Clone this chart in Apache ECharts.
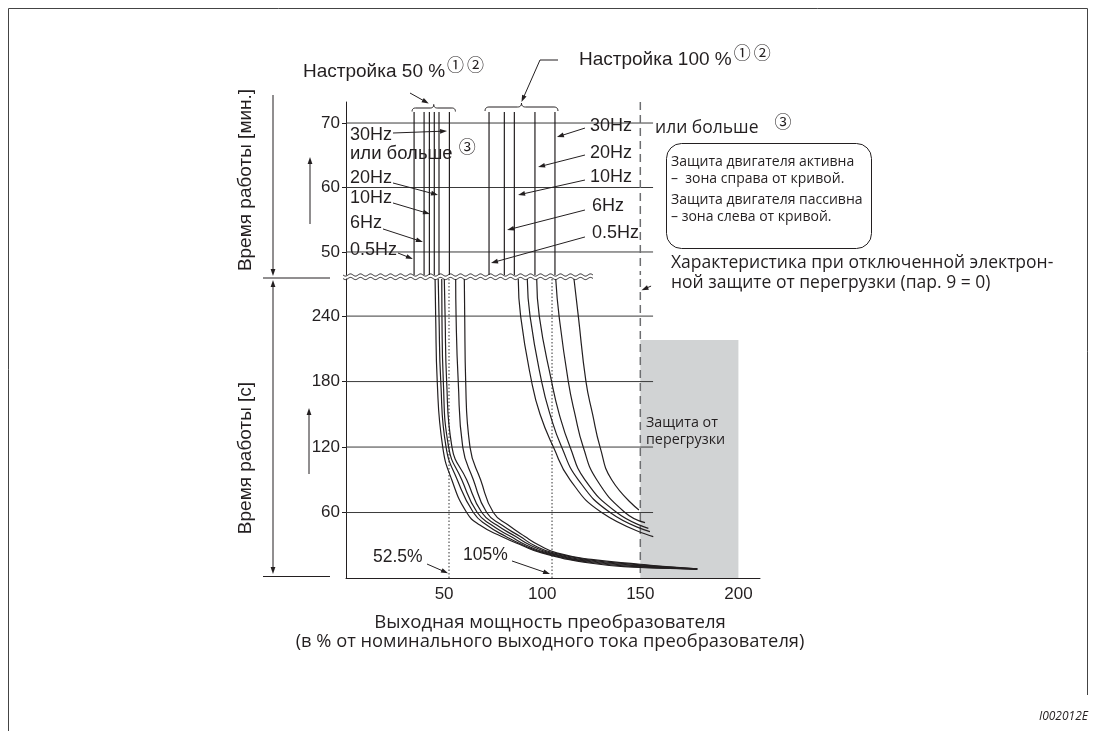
<!DOCTYPE html>
<html><head><meta charset="utf-8">
<script src="https://cdn.jsdelivr.net/npm/echarts@6/dist/echarts.min.js"></script>
<style>html,body{margin:0;padding:0;background:#fff}#c{width:1095px;height:731px}</style>
</head><body><div id="c"></div>
<script>
// ---------- data ----------
const xTickLabels = [50, 100, 150, 200];
const topTickLabels = [50, 60, 70];          // minutes
const bottomTickLabels = [60, 120, 180, 240]; // seconds
const topAxisMin = 46.43, topAxisMax = 73.26;
const bottomAxisMax = 274;
const xAxisMax = 211;
const gridLineEnd = 156.5;
// vertical lines in the minute zone (x = % output)
const setting50Lines = [34.7, 39.8, 42.5, 45.0, 47.4, 52.7];
const setting100Lines = [72.9, 80.7, 85.8, 96.3, 106.5];
const verticalTopMin = 71.7;
// curves in the seconds zone: [% output, seconds]
const curves50 = [
  [[45.4,274],[45.7,240],[46.5,180],[49.3,120],[53.9,90],[61.5,60],[68.2,48.5],[79.3,38],[89.5,30],[99.7,23],[125,13.5],[150,9.6],[165,8.7],[179,8.0]],
  [[47.0,274],[47.4,240],[48.3,180],[51.0,120],[56.7,90],[64.9,60],[71.7,48.5],[81.5,38],[90.5,30],[101,23],[125,14.2],[150,10.2],[165,9.0],[179,8.1]],
  [[48.8,274],[48.9,240],[49.6,180],[52.3,120],[59.0,90],[66.9,60],[74.2,48.5],[84,38],[92,30],[102.5,23],[125,14.9],[150,10.8],[165,9.3],[179,8.2]],
  [[50.1,274],[50.5,240],[51.3,180],[54.0,120],[61.5,90],[69.2,60],[76.8,48.5],[86.5,38],[94,30],[104,23],[125,15.6],[150,11.4],[165,9.6],[179,8.3]],
  [[55.9,274],[56.1,240],[57.2,180],[59.5,120],[64.9,90],[71.7,60],[79.4,48.5],[88.8,38],[95.8,30],[105.7,23],[125,16.3],[150,12.0],[165,9.9],[179,8.4]],
  [[60.3,274],[60.5,240],[61.0,180],[63.2,120],[68.6,90],[75.1,60],[82.7,48.5],[91.2,38],[98.5,30],[107.4,23],[125,17],[150,12.6],[165,10.2],[179,8.5]]
];
const curves100 = [
  [[87.8,274],[89.0,240],[94.6,180],[98.9,150],[105.7,120],[114.2,90],[130.3,60],[156.6,37.9]],
  [[92.4,274],[93.8,240],[99.7,180],[104.0,150],[109.9,120],[118.4,90],[134.6,60],[154.9,42.5]],
  [[97.2,274],[98.5,240],[104.8,180],[108.7,150],[114.2,120],[121.8,90],[138.0,60],[154.1,45.5]],
  [[106.9,274],[108.6,240],[113.3,180],[116.7,150],[120.9,120],[127.8,90],[142.2,60],[152.4,50.7]],
  [[116.2,274],[118.4,240],[122.3,180],[125.7,150],[129.5,120],[135.4,90],[149.3,62.3]]
];
const refLines = [52.5, 105];
const noProtectionLine = 150;
const overloadZone = [150, 200, 218]; // x from, x to, seconds top
// annotation arrows (data coordinates)
const arrowsTop = [
  [[23.95,68.45],[51.5,68.76]], [[23.95,60.70],[46.9,58.84]], [[23.95,57.60],[42.8,55.89]],
  [[18.86,53.57],[39.2,51.55]], [[26.5,49.84],[34.1,48.91]],
  [[121.8,69.22],[107.5,67.83]], [[121.8,65.04],[97.9,63.18]], [[121.8,61.16],[87.7,58.84]],
  [[121.8,56.51],[82.1,53.41]], [[121.8,52.33],[73.9,48.29]]
];
const arrowsBottom = [
  [[41.3,12.8],[52.0,4.4]], [[84.6,15.6],[104,3.6]], [[155.5,267.5],[150.6,263.8]]
];

// ---------- chart ----------
const C = '#231f20';
const A = "'Liberation Sans', Arial, sans-serif";
const M = "'Open Sans', 'Noto Sans', sans-serif";
const CIRC = "'Noto Sans CJK JP', 'DejaVu Sans', sans-serif";
const chart = echarts.init(document.getElementById('c'), null, {renderer: 'canvas'});

function seg(name, xi, pts, style, extra) {
  return Object.assign({type: 'line', name, xAxisIndex: xi, yAxisIndex: xi, data: pts,
    showSymbol: false, symbol: 'none', silent: true, animation: false,
    lineStyle: Object.assign({color: C, width: 1}, style)}, extra || {});
}
const series = [];
topTickLabels.forEach(v => series.push(seg('g', 0, [[0, v], [gridLineEnd, v]], {color: '#3a3a3a'})));
bottomTickLabels.forEach(v => series.push(seg('g', 1, [[0, v], [gridLineEnd, v]], {color: '#3a3a3a'})));
setting50Lines.concat(setting100Lines).forEach(x => series.push(seg('v', 0, [[x, verticalTopMin], [x, topAxisMin]], {width: 1.2})));
series.push(seg('d', 0, [[noProtectionLine, topAxisMax], [noProtectionLine, topAxisMin]], {color: '#6d6e70', width: 1.5, type: [8, 5]}));
series.push(seg('d', 1, [[noProtectionLine, bottomAxisMax], [noProtectionLine, 0]], {color: '#6d6e70', width: 1.5, type: [8, 5]}, {
  z: 1,
  markArea: {silent: true, itemStyle: {color: '#d1d3d4'}, data: [[{coord: [overloadZone[0], 0]}, {coord: [overloadZone[1], overloadZone[2]]}]]}
}));
refLines.forEach(x => series.push(seg('r', 1, [[x, bottomAxisMax], [x, 0]], {color: '#333', width: 1, type: [1.5, 2]})));
curves50.concat(curves100).forEach(c => series.push(seg('c', 1, c, {width: 1.2}, {smooth: true, z: 4})));

chart.setOption({
  animation: false,
  grid: [
    {left: 346, top: 102, width: 414, height: 173},
    {left: 346, top: 279, width: 414, height: 299}
  ],
  xAxis: [
    {gridIndex: 0, type: 'value', min: 0, max: xAxisMax, show: false},
    {gridIndex: 1, type: 'value', min: 0, max: xAxisMax, interval: 50,
      axisLine: {show: true, lineStyle: {color: C, width: 1}}, axisTick: {show: false}, splitLine: {show: false},
      axisLabel: {margin: 8, fontSize: 17, fontFamily: A, color: C,
        formatter: v => xTickLabels.includes(v) ? String(v) : ''}}
  ],
  yAxis: [
    {gridIndex: 0, type: 'value', min: topAxisMin, max: topAxisMax,
      axisLine: {show: true, lineStyle: {color: C, width: 1}}, splitLine: {show: false},
      axisTick: {show: true, length: 4, customValues: topTickLabels, lineStyle: {color: C}},
      axisLabel: {customValues: topTickLabels, margin: 6, fontSize: 17, fontFamily: A, color: C}},
    {gridIndex: 1, type: 'value', min: 0, max: bottomAxisMax,
      axisLine: {show: true, lineStyle: {color: C, width: 1}}, splitLine: {show: false},
      axisTick: {show: true, length: 4, customValues: bottomTickLabels, lineStyle: {color: C}},
      axisLabel: {customValues: bottomTickLabels, margin: 6, fontSize: 17, fontFamily: A, color: C}}
  ],
  series
});

// ---------- annotations ----------
const ctx = document.createElement('canvas').getContext('2d');
function textW(t, size, fam) { ctx.font = size + 'px ' + fam; return ctx.measureText(t).width; }
function txt(t, x, y, size, fam, align, extra) {
  return Object.assign({type: 'text', x, y, silent: true, z: 100,
    style: {text: t, fill: C, fontSize: size, fontFamily: fam, align: align || 'left', verticalAlign: 'middle'}}, extra || {});
}
function line(x1, y1, x2, y2, w, col) {
  return {type: 'line', silent: true, z: 100, shape: {x1, y1, x2, y2}, style: {stroke: col || C, lineWidth: w || 1}};
}
function arrowEls(p, q, head, hw) {
  head = head || 7; hw = hw || 2.4;
  const dx = q[0] - p[0], dy = q[1] - p[1], L = Math.hypot(dx, dy), ux = dx / L, uy = dy / L;
  const bx = q[0] - ux * head, by = q[1] - uy * head;
  return [
    line(p[0], p[1], bx + ux, by + uy, 1),
    {type: 'polygon', silent: true, z: 100, shape: {points: [[q[0], q[1]], [bx - uy * hw, by + ux * hw], [bx + uy * hw, by - ux * hw]]}, style: {fill: C}}
  ];
}
function quad(pts, p0, c, p1) {
  for (let i = 0; i <= 8; i++) {
    const t = i / 8, a = (1 - t) * (1 - t), b = 2 * t * (1 - t), d = t * t;
    pts.push([a * p0[0] + b * c[0] + d * p1[0], a * p0[1] + b * c[1] + d * p1[1]]);
  }
}
function brace(x0, x1, y, h) {
  const xm = (x0 + x1) / 2, pts = [];
  quad(pts, [x0, y + h], [x0, y], [x0 + h, y]);
  quad(pts, [xm - h, y], [xm, y], [xm, y - h]);
  quad(pts, [xm, y - h], [xm, y], [xm + h, y]);
  quad(pts, [x1 - h, y], [x1, y], [x1, y + h]);
  return {type: 'polyline', silent: true, z: 100, shape: {points: pts}, style: {stroke: C, fill: 'none', lineWidth: 1}};
}
function wave(x0, x1, y, amp, per) {
  const pts = [];
  for (let x = x0; x <= x1; x += 0.5) pts.push([x, y + amp * Math.sin(2 * Math.PI * (x - x0) / per)]);
  return {type: 'polyline', silent: true, z: 100, shape: {points: pts}, style: {stroke: C, lineWidth: 1, fill: 'none'}};
}
const P0 = v => chart.convertToPixel({gridIndex: 0}, v);
const P1 = v => chart.convertToPixel({gridIndex: 1}, v);

const els = [];
els.push(line(8.5, 8.5, 1087.5, 8.5, 1, '#444'), line(8.5, 8.5, 8.5, 731, 1, '#444'), line(1087.5, 8.5, 1087.5, 695, 1, '#444'));
els.push(wave(343, 593, 275, 1.1, 10), wave(343, 593, 278.5, 1.1, 10));
els.push(...arrowEls([273, 95], [273, 276]));
els.push(line(263, 278, 330, 278));
els.push(...arrowEls([273, 420], [273, 280]), ...arrowEls([273, 420], [273, 574]));
els.push(line(263, 576.5, 330, 576.5));
els.push(...arrowEls([310, 224], [310, 157]), ...arrowEls([309, 474], [309, 408]));
const b50 = [P0([setting50Lines[0], 70])[0] - 2, P0([setting50Lines[setting50Lines.length - 1], 70])[0] + 6];
const b100 = [P0([setting100Lines[0], 70])[0] - 4, P0([setting100Lines[setting100Lines.length - 1], 70])[0] + 3];
els.push(brace(b50[0], b50[1], 108, 3.5), brace(b100[0], b100[1], 107, 4));
els.push(...arrowEls([410, 93], [(b50[0] + b50[1]) / 2 - 5, 103.5]));
els.push(line(558, 60, 540, 60), ...arrowEls([540, 60], [(b100[0] + b100[1]) / 2, 102]));
arrowsTop.forEach(a => els.push(...arrowEls(P0(a[0]), P0(a[1]))));
arrowsBottom.forEach(a => els.push(...arrowEls(P1(a[0]), P1(a[1]))));

function circled(x, y, size) {
  return [txt('①', x, y, size, CIRC), txt('②', x + 20, y, size, CIRC)];
}
const t50 = 'Настройка 50 %', t100 = 'Настройка 100 %';
els.push(txt(t50, 303, 72, 19, A));
els.push(...circled(303 + textW(t50, 19, A) + 2, 65, 17));
els.push(txt(t100, 579, 60, 19, A));
els.push(...circled(579 + textW(t100, 19, A) + 2, 53, 17));

els.push(txt('30Hz', 350, 135, 18, A), txt('или больше', 350, 154, 18.5, A));
els.push(txt('③', 350 + textW('или больше', 18.5, A) + 6, 147, 17, CIRC));
els.push(txt('20Hz', 350, 178, 18, A), txt('10Hz', 350, 198, 18, A), txt('6Hz', 350, 223, 18, A), txt('0.5Hz', 350, 250, 18, A));
els.push(txt('30Hz', 590, 126, 18, A), txt('20Hz', 590, 153, 18, A), txt('10Hz', 590, 177, 18, A), txt('6Hz', 592, 206, 18, A), txt('0.5Hz', 592, 233, 18, A));

els.push(txt('или больше', 655, 128, 17.5, M));
els.push(txt('③', 655 + textW('или больше', 17.5, M) + 16, 122, 17, CIRC));
els.push({type: 'rect', silent: true, z: 100, shape: {x: 666.5, y: 143.5, width: 205, height: 105, r: 15}, style: {stroke: C, fill: 'none', lineWidth: 1}});
els.push(txt('Защита двигателя активна', 671, 162, 14, M), txt('–  зона справа от кривой.', 671, 179, 14, M),
         txt('Защита двигателя пассивна', 671, 200, 14, M), txt('– зона слева от кривой.', 671, 217, 14, M));
els.push(txt('Характеристика при отключенной электрон-', 671, 263, 17.5, M), txt('ной защите от перегрузки (пар. 9 = 0)', 671, 283, 17.5, M));
els.push(txt('Защита от', 646, 423, 14.3, M), txt('перегрузки', 646, 440, 14.3, M));
els.push(txt('52.5%', 373, 557, 17.5, A), txt('105%', 463, 555, 17.5, A));
els.push(txt('Время работы [мин.]', 246, 180, 19, A, 'center', {rotation: Math.PI / 2}));
els.push(txt('Время работы [c]', 246, 458, 19, A, 'center', {rotation: Math.PI / 2}));
els.push(txt('Выходная мощность преобразователя', 550, 623, 18.6, M, 'center'));
els.push(txt('(в % от номинального выходного тока преобразователя)', 550, 642, 18.3, M, 'center'));
els.push({type: 'text', x: 1088, y: 717, silent: true, z: 100, style: {text: 'I002012E', fill: C, fontSize: 12, fontFamily: M, fontStyle: 'italic', align: 'right', verticalAlign: 'middle'}});

chart.setOption({graphic: {elements: els}});
</script></body></html>
